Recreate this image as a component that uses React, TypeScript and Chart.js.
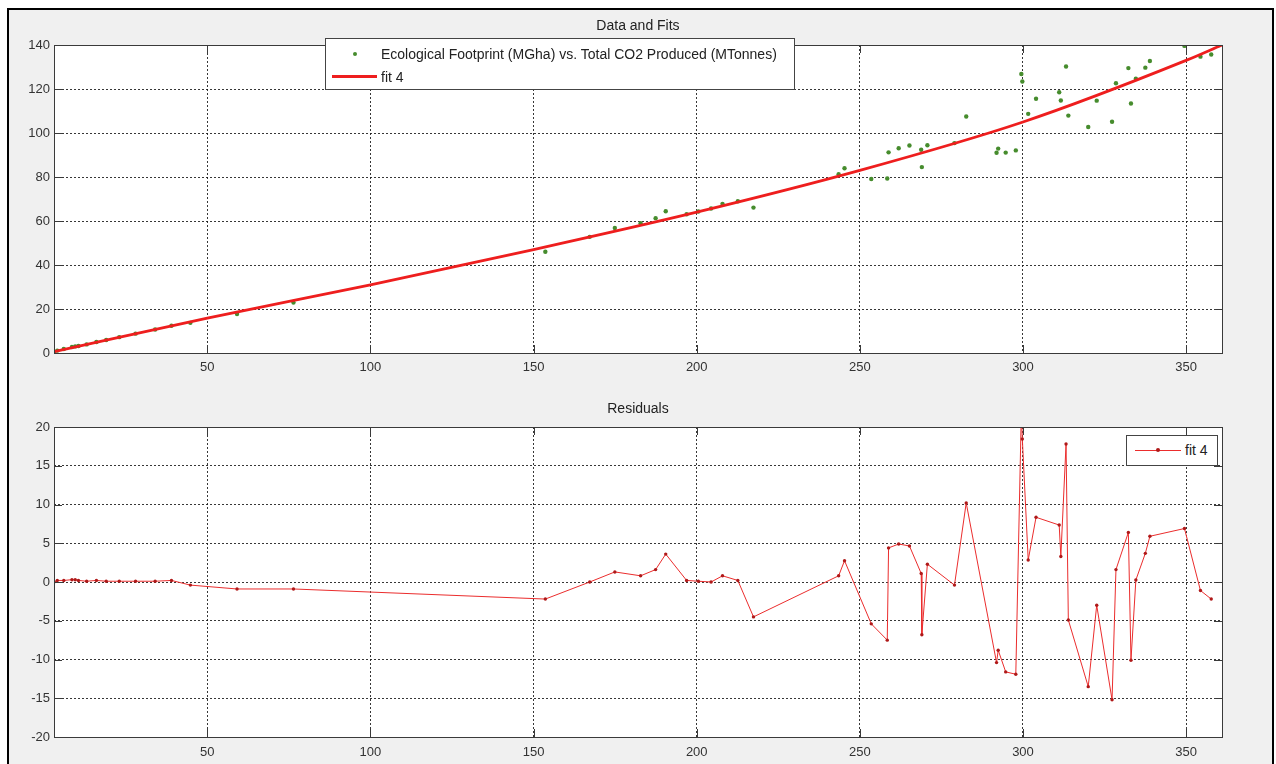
import React, { useEffect, useRef } from "react";
import { Chart, registerables } from "chart.js";
Chart.register(...registerables);

// CO2 produced (MTonnes) — x values of the observations
const co2X = [3, 4, 6, 8.5, 9.5, 10.5, 13, 16, 19, 23, 28, 34, 39, 44.8, 59.1, 76.4, 153.6, 167.2, 174.9, 182.8,
  187.4, 190.5, 196.9, 200.5, 204.4, 207.9, 212.6, 217.4, 243.5, 245.3, 253.5, 258.4, 258.8, 261.9, 265.2, 268.8,
  269.0, 270.7, 279, 282.6, 291.9, 292.4, 294.7, 297.8, 299.5, 299.8, 301.6, 304, 311.1, 311.6, 313.2, 313.9, 320,
  322.6, 327.3, 328.5, 332.3, 333.1, 334.6, 337.5, 338.9, 349.5, 354.4, 357.7];
// Ecological footprint (MGha)
const footprintY = [0.6, 1.1, 1.8, 2.7, 3.0, 3.2, 3.9, 5.0, 5.9, 7.2, 8.8, 10.7, 12.4, 13.7, 17.7, 22.9, 46.0, 52.8,
  56.8, 59.0, 61.3, 64.4, 63.1, 64.3, 65.7, 67.8, 69.0, 66.1, 81.3, 84.0, 79.1, 79.3, 91.2, 93.1, 94.3, 92.4, 84.5,
  94.4, 95.4, 107.5, 91.0, 92.9, 91.1, 92.1, 126.8, 123.4, 108.7, 115.6, 118.5, 114.8, 130.2, 107.9, 102.7, 114.7,
  105.1, 122.6, 129.5, 113.4, 124.7, 129.7, 132.7, 139.6, 134.7, 135.7];
// Residuals of fit 4
const residualY = [0, 0.2, 0.2, 0.3, 0.3, 0.2, 0.1, 0.2, 0.1, 0.1, 0.1, 0.1, 0.2, -0.4, -0.9, -0.9, -2.2, 0, 1.3, 0.8,
  1.6, 3.6, 0.2, 0.1, 0, 0.8, 0.2, -4.5, 0.8, 2.75, -5.4, -7.5, 4.4, 4.9, 4.65, 1.1, -6.8, 2.3, -0.4, 10.2, -10.4, -8.8,
  -11.6, -11.9, 22, 18.45, 2.84, 8.35, 7.35, 3.3, 17.8, -4.9, -13.5, -3, -15.2, 1.6, 6.4, -10.1, 0.26, 3.7, 5.9, 6.9,
  -1.1, -2.2];
// Fit curve samples
const fitX = [3, 50, 100, 150, 200, 250, 300, 350, 361];
const fitY = [0.6, 15.8, 31, 47, 64, 83, 105, 133, 140];

const xTicks = [50, 100, 150, 200, 250, 300, 350];
const topYTicks = [0, 20, 40, 60, 80, 100, 120, 140];
const resYTicks = [-20, -15, -10, -5, 0, 5, 10, 15, 20];
const X_MIN = 3;
const X_MAX = 361;

const FONT = "'Liberation Sans', Arial, sans-serif";

const axesDecor = {
  id: "axesDecor",
  beforeDraw(chart: any) {
    const { ctx, chartArea: a } = chart;
    ctx.save();
    ctx.fillStyle = "#ffffff";
    ctx.fillRect(a.left, a.top, a.right - a.left, a.bottom - a.top);
    ctx.restore();
  },
  afterDraw(chart: any) {
    const { ctx, chartArea: a, scales } = chart;
    ctx.save();
    ctx.strokeStyle = "#3a3a3a";
    ctx.lineWidth = 1;
    ctx.strokeRect(Math.round(a.left) + 0.5, Math.round(a.top) + 0.5, Math.round(a.right - a.left), Math.round(a.bottom - a.top));
    const L = 8;
    ctx.beginPath();
    for (const v of xTicks) {
      const px = Math.round(scales.x.getPixelForValue(v)) + 0.5;
      ctx.moveTo(px, a.bottom);
      ctx.lineTo(px, a.bottom - L);
      ctx.moveTo(px, a.top);
      ctx.lineTo(px, a.top + L);
    }
    for (const t of scales.y.ticks) {
      const py = Math.round(scales.y.getPixelForValue(t.value)) + 0.5;
      ctx.moveTo(a.left, py);
      ctx.lineTo(a.left + L, py);
      ctx.moveTo(a.right, py);
      ctx.lineTo(a.right - L, py);
    }
    ctx.stroke();
    ctx.restore();
  },
};

function makeScales(yTicks: number[], xPad: number) {
  const grid = { color: "rgba(20,20,20,0.85)", lineWidth: 1, drawTicks: false };
  return {
    x: {
      type: "linear" as const,
      min: X_MIN,
      max: X_MAX,
      grid,
      border: { display: false, dash: [2, 2] },
      afterBuildTicks: (s: any) => { s.ticks = xTicks.map((v) => ({ value: v })); },
      afterFit: (s: any) => { s.height = 27; },
      ticks: { padding: xPad, color: "#333", font: { family: FONT, size: 13 }, maxRotation: 0, autoSkip: false },
    },
    y: {
      type: "linear" as const,
      min: yTicks[0],
      max: yTicks[yTicks.length - 1],
      grid,
      border: { display: false, dash: [2, 2] },
      afterBuildTicks: (s: any) => { s.ticks = yTicks.map((v) => ({ value: v })); },
      afterFit: (s: any) => { s.width = 54; },
      ticks: { padding: 4, color: "#333", font: { family: FONT, size: 13 }, autoSkip: false },
    },
  };
}

export default function App() {
  const topRef = useRef<HTMLCanvasElement>(null);
  const botRef = useRef<HTMLCanvasElement>(null);

  useEffect(() => {
    const pts = co2X.map((x, i) => ({ x, y: footprintY[i] }));
    const fit = fitX.map((x, i) => ({ x, y: fitY[i] }));
    const res = co2X.map((x, i) => ({ x, y: residualY[i] }));

    const c1 = new Chart(topRef.current!, {
      type: "scatter",
      data: {
        datasets: [
          {
            label: "fit 4",
            data: fit,
            showLine: true,
            borderColor: "rgb(238,30,30)",
            borderWidth: 2.8,
            pointRadius: 0,
            cubicInterpolationMode: "monotone",
          } as any,
          {
            label: "Ecological Footprint (MGha) vs. Total CO2 Produced (MTonnes)",
            data: pts,
            showLine: false,
            pointRadius: 2.2,
            pointBorderWidth: 0,
            backgroundColor: "rgb(70,140,45)",
            borderColor: "rgb(70,140,45)",
          },
        ],
      },
      options: {
        responsive: false,
        animation: false,
        layout: { padding: { top: 45, right: 54, left: 0, bottom: 0 } },
        plugins: { legend: { display: false }, tooltip: { enabled: false }, title: { display: false } },
        scales: makeScales(topYTicks, 7) as any,
      },
      plugins: [axesDecor],
    });

    const c2 = new Chart(botRef.current!, {
      type: "scatter",
      data: {
        datasets: [
          {
            label: "fit 4",
            data: res,
            showLine: true,
            borderColor: "rgb(235,45,45)",
            borderWidth: 1,
            pointRadius: 1.7,
            pointBorderWidth: 0,
            backgroundColor: "rgb(175,25,25)",
            tension: 0,
          },
        ],
      },
      options: {
        responsive: false,
        animation: false,
        layout: { padding: { top: 37, right: 54, left: 0, bottom: 0 } },
        plugins: { legend: { display: false }, tooltip: { enabled: false } },
        scales: makeScales(resYTicks, 8) as any,
      },
      plugins: [axesDecor],
    });

    return () => {
      c1.destroy();
      c2.destroy();
    };
  }, []);

  const textStyle: React.CSSProperties = { fontFamily: FONT, fontSize: 14, color: "#222", position: "absolute", whiteSpace: "nowrap" };

  return (
    <div style={{ position: "absolute", left: 0, top: 0, width: 1276, height: 764, overflow: "hidden", background: "#fff" }}>
      <div style={{ position: "absolute", left: 7, top: 8, width: 1267, height: 800, border: "2px solid #000", boxSizing: "border-box", background: "#f0f0f0" }} />
      <canvas ref={topRef} width={1276} height={380} style={{ position: "absolute", left: 0, top: 0 }} />
      <canvas ref={botRef} width={1276} height={374} style={{ position: "absolute", left: 0, top: 390 }} />

      <div style={{ ...textStyle, left: 538, width: 200, textAlign: "center", top: 17, lineHeight: "16px" }}>Data and Fits</div>
      <div style={{ ...textStyle, left: 538, width: 200, textAlign: "center", top: 400, lineHeight: "16px" }}>Residuals</div>

      <div style={{ position: "absolute", left: 325, top: 38, width: 470, height: 52, border: "1px solid #444", background: "#fff", boxSizing: "border-box" }}>
        <div style={{ position: "absolute", left: 27, top: 13, width: 4, height: 4, borderRadius: 2, background: "rgb(70,140,45)" }} />
        <div style={{ ...textStyle, left: 55, top: 7, lineHeight: "16px" }}>Ecological Footprint (MGha) vs. Total CO2 Produced (MTonnes)</div>
        <div style={{ position: "absolute", left: 6, top: 36, width: 45, height: 3, background: "rgb(238,30,30)" }} />
        <div style={{ ...textStyle, left: 55, top: 30, lineHeight: "16px" }}>fit 4</div>
      </div>

      <div style={{ position: "absolute", left: 1126, top: 435, width: 92, height: 31, border: "1px solid #444", background: "#fff", boxSizing: "border-box" }}>
        <div style={{ position: "absolute", left: 8, top: 14, width: 46, height: 1, background: "rgb(235,45,45)" }} />
        <div style={{ position: "absolute", left: 29, top: 12, width: 4, height: 4, borderRadius: 2, background: "rgb(175,25,25)" }} />
        <div style={{ ...textStyle, left: 58, top: 6, lineHeight: "16px" }}>fit 4</div>
      </div>
    </div>
  );
}
